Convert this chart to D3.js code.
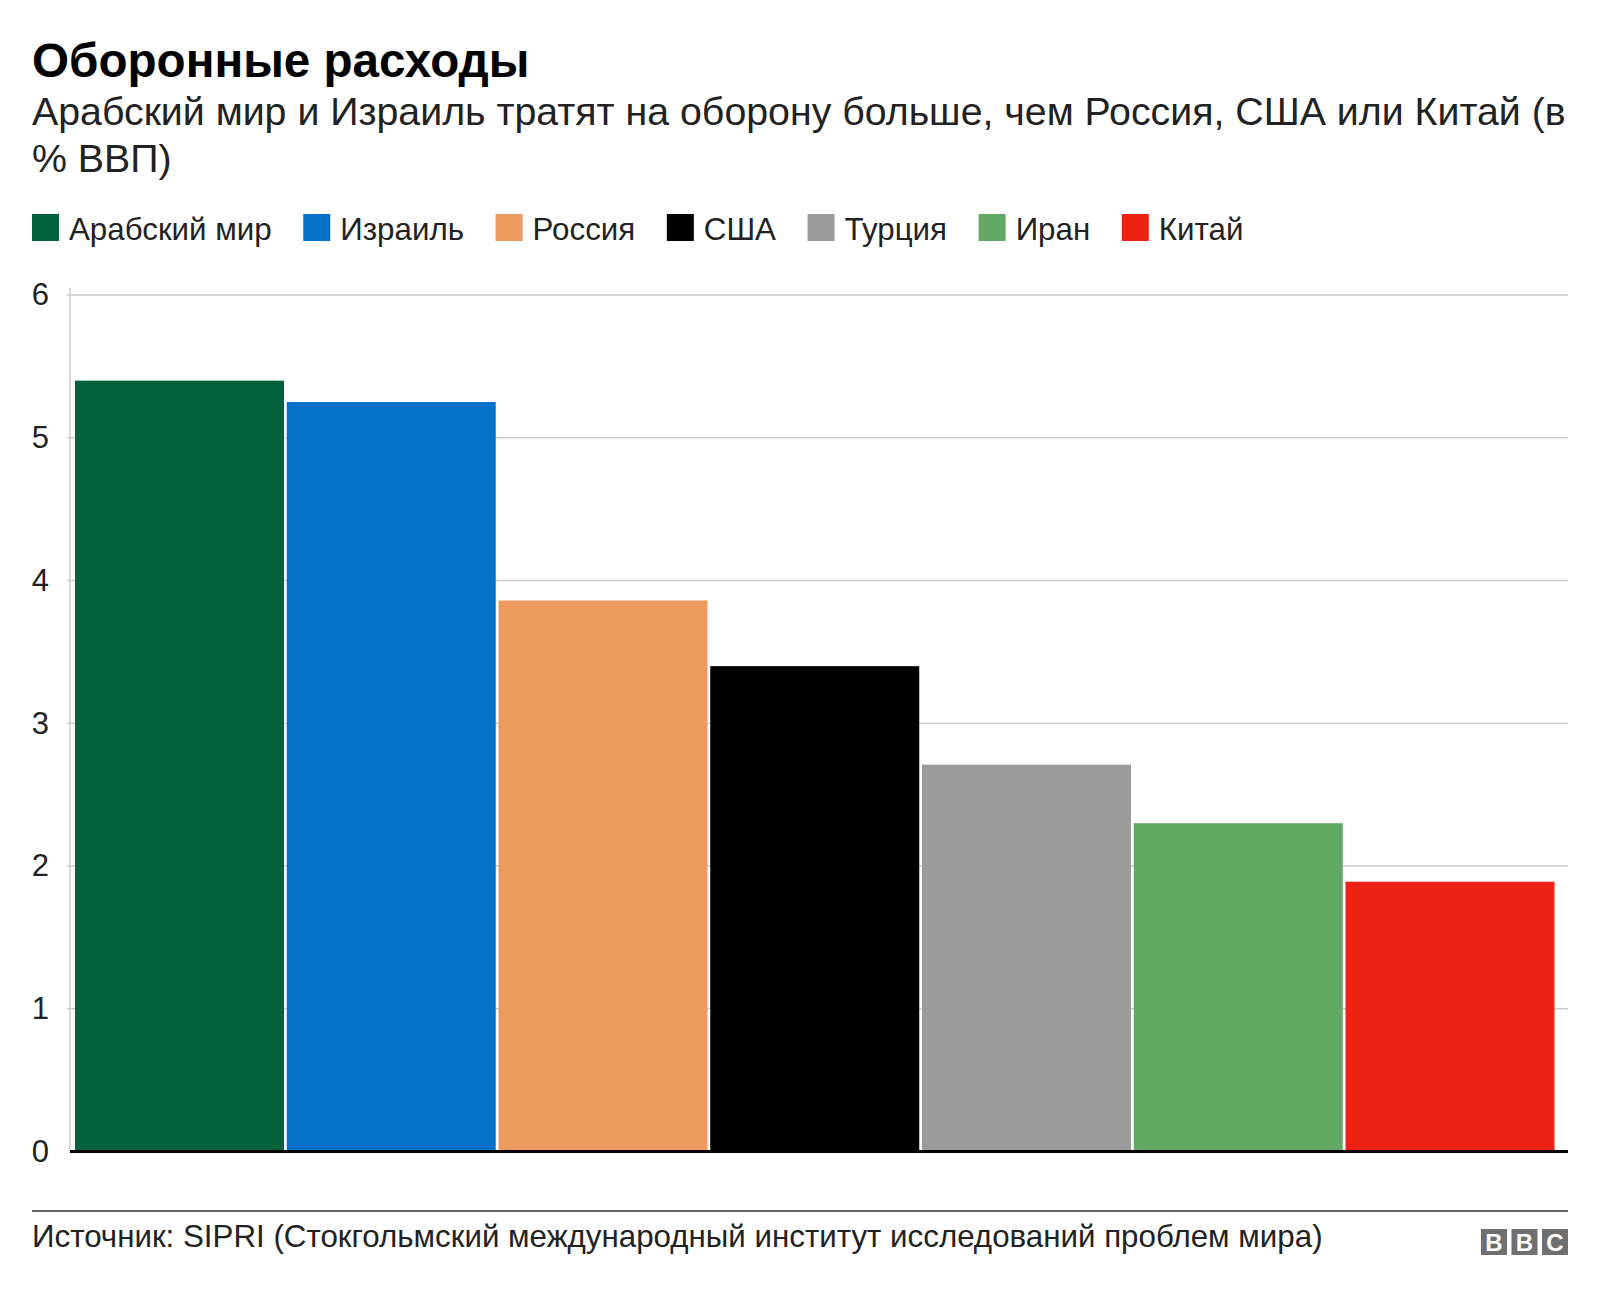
<!DOCTYPE html>
<html>
<head>
<meta charset="utf-8">
<script src="https://cdn.jsdelivr.net/npm/d3@7"></script>
<style>
  body { margin: 0; background: #fff; }
  text { font-family: "Liberation Sans", Arial, sans-serif; fill: #222; }
</style>
</head>
<body>
<div id="chart"></div>
<script>
// data
var countries = ["Арабский мир", "Израиль", "Россия", "США", "Турция", "Иран", "Китай"];
var spending = [5.4, 5.25, 3.86, 3.4, 2.71, 2.3, 1.89];
var colors = ["#03623c", "#0571c8", "#eb9a60", "#000000", "#9b9b9b", "#64a866", "#ec2214"];
var yTicks = [0, 1, 2, 3, 4, 5, 6];

var titleText = "Оборонные расходы";
var subtitleLines = ["Арабский мир и Израиль тратят на оборону больше, чем Россия, США или Китай (в", "% ВВП)"];
var sourceText = "Источник: SIPRI (Стокгольмский международный институт исследований проблем мира)";

var svgWidth = 1600;
var svgHeight = 1296;

var svg = d3.select("#chart")
  .append("svg")
  .attr("width", svgWidth)
  .attr("height", svgHeight);

// titles
svg.append("text")
  .attr("x", 32)
  .attr("y", 77)
  .attr("font-size", 47.6)
  .attr("font-weight", "bold")
  .style("fill", "#000")
  .text(titleText);

svg.append("text")
  .attr("x", 32)
  .attr("font-size", 39.3)
  .selectAll("tspan")
  .data(subtitleLines)
  .enter()
  .append("tspan")
  .attr("x", 32)
  .attr("y", (d, i) => 125 + i * 47)
  .text(d => d);

// legend
var legend = svg.append("g").attr("transform", "translate(32, 214)");
var lx = 0;
countries.forEach((c, i) => {
  var item = legend.append("g").attr("transform", `translate(${lx}, 0)`);
  item.append("rect")
    .attr("width", 27)
    .attr("height", 27)
    .attr("fill", colors[i]);
  var t = item.append("text")
    .attr("x", 37)
    .attr("y", 26)
    .attr("font-size", 31.3)
    .text(c);
  lx += 37 + t.node().getComputedTextLength() + 31.6;
});

// scales
var x = d3.scaleBand()
  .domain(countries)
  .range([75, 1554.5])
  .paddingInner(0.013);

var y = d3.scaleLinear()
  .domain([0, 6])
  .range([1151.5, 295]);

var plotLeft = 70;
var plotRight = 1568;

// grid lines
svg.append("g")
  .selectAll("line")
  .data(yTicks.filter(d => d > 0))
  .enter()
  .append("line")
  .attr("x1", plotLeft - 3)
  .attr("x2", plotRight)
  .attr("y1", d => y(d))
  .attr("y2", d => y(d))
  .attr("stroke", "#cccccc")
  .attr("stroke-width", 1.5);

// y axis line
svg.append("line")
  .attr("x1", plotLeft)
  .attr("x2", plotLeft)
  .attr("y1", y(6) - 7)
  .attr("y2", y(0))
  .attr("stroke", "#cccccc")
  .attr("stroke-width", 1.5);

// y axis labels
var yAxis = d3.axisLeft(y).tickValues(yTicks).tickFormat(d3.format("d")).tickSize(0).tickPadding(0);
var yAxisG = svg.append("g")
  .attr("transform", "translate(49, 0)")
  .call(yAxis);
yAxisG.select(".domain").remove();
yAxisG.selectAll("text")
  .attr("font-size", 31)
  .attr("font-family", "Liberation Sans, Arial, sans-serif")
  .style("fill", "#222");

// bars
svg.append("g")
  .selectAll("rect")
  .data(countries)
  .enter()
  .append("rect")
  .attr("x", d => x(d))
  .attr("y", (d, i) => y(spending[i]))
  .attr("width", x.bandwidth())
  .attr("height", (d, i) => y(0) - y(spending[i]))
  .attr("fill", (d, i) => colors[i]);

// zero line
svg.append("line")
  .attr("x1", plotLeft)
  .attr("x2", plotRight)
  .attr("y1", y(0))
  .attr("y2", y(0))
  .attr("stroke", "#000")
  .attr("stroke-width", 3);

// footer
svg.append("line")
  .attr("x1", 32)
  .attr("x2", plotRight)
  .attr("y1", 1211)
  .attr("y2", 1211)
  .attr("stroke", "#333")
  .attr("stroke-width", 1.5);

svg.append("text")
  .attr("x", 32)
  .attr("y", 1247)
  .attr("font-size", 31.3)
  .text(sourceText);

// BBC logo
var logo = svg.append("g").attr("transform", "translate(1481, 1229)");
["B", "B", "C"].forEach((l, i) => {
  logo.append("rect")
    .attr("x", i * 30.5)
    .attr("width", 26)
    .attr("height", 26)
    .attr("fill", "#6f6f6f");
  logo.append("text")
    .attr("x", i * 30.5 + 13)
    .attr("y", 22)
    .attr("text-anchor", "middle")
    .attr("font-size", 24)
    .attr("font-weight", "bold")
    .style("fill", "#fff")
    .text(l);
});
</script>
</body>
</html>
